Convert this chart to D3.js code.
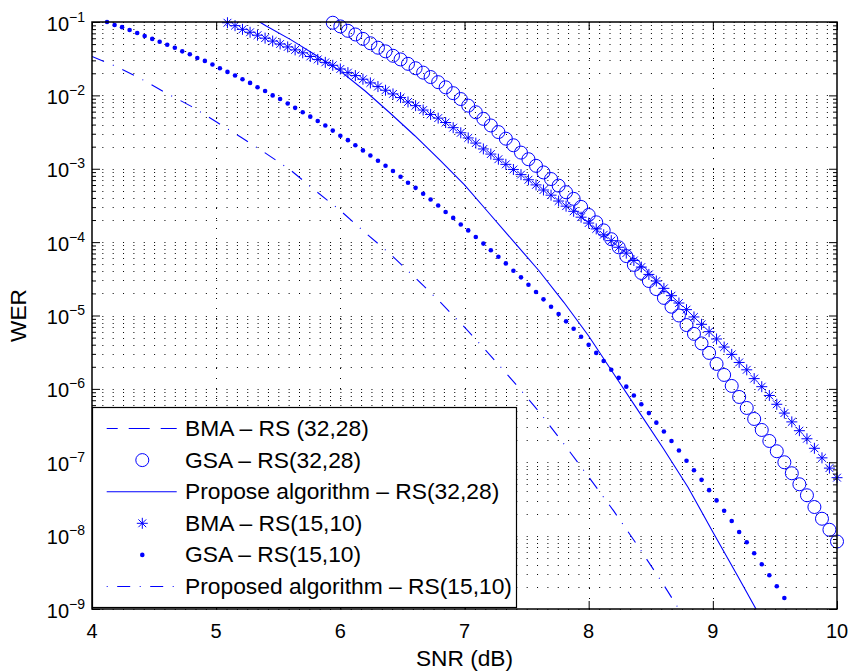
<!DOCTYPE html>
<html>
<head>
<meta charset="utf-8">
<script src="https://cdn.jsdelivr.net/npm/d3@7"></script>
<style>
body{margin:0;background:#fff;}
svg text{font-family:"Liberation Sans",Arial,Helvetica,sans-serif;fill:#000;}
</style>
</head>
<body>
<svg id="chart" width="853" height="672"></svg>
<script>
// SNR grid the simulations were run on (dB)
var snrGrid = [4.000, 4.061, 4.121, 4.182, 4.242, 4.303, 4.364, 4.424, 4.485, 4.545,
	4.606, 4.667, 4.727, 4.788, 4.848, 4.909, 4.970, 5.030, 5.091, 5.152,
	5.212, 5.273, 5.333, 5.394, 5.455, 5.515, 5.576, 5.636, 5.697, 5.758,
	5.818, 5.879, 5.939, 6.000, 6.061, 6.121, 6.182, 6.242, 6.303, 6.364,
	6.424, 6.485, 6.545, 6.606, 6.667, 6.727, 6.788, 6.848, 6.909, 6.970,
	7.030, 7.091, 7.152, 7.212, 7.273, 7.333, 7.394, 7.455, 7.515, 7.576,
	7.636, 7.697, 7.758, 7.818, 7.879, 7.939, 8.000, 8.061, 8.121, 8.182,
	8.242, 8.303, 8.364, 8.424, 8.485, 8.545, 8.606, 8.667, 8.727, 8.788,
	8.848, 8.909, 8.970, 9.030, 9.091, 9.152, 9.212, 9.273, 9.333, 9.394,
	9.455, 9.515, 9.576, 9.636, 9.697, 9.758, 9.818, 9.879, 9.939, 10.000];

// WER values are kept as powers of ten (log10 WER)

// GSA - RS(15,10), dots
var gsa15Snr = snrGrid.slice(2, 93);
var gsa15Exp = [-1.00, -1.04, -1.07, -1.11, -1.15, -1.19, -1.23, -1.27, -1.31, -1.35,
	-1.40, -1.44, -1.49, -1.53, -1.58, -1.63, -1.68, -1.73, -1.78, -1.83,
	-1.89, -1.94, -2.00, -2.05, -2.11, -2.17, -2.23, -2.29, -2.35, -2.41,
	-2.48, -2.55, -2.61, -2.68, -2.75, -2.82, -2.89, -2.96, -3.03, -3.11,
	-3.19, -3.26, -3.34, -3.42, -3.50, -3.59, -3.67, -3.76, -3.84, -3.93,
	-4.02, -4.11, -4.20, -4.29, -4.39, -4.48, -4.58, -4.68, -4.78, -4.88,
	-4.98, -5.08, -5.18, -5.29, -5.40, -5.51, -5.62, -5.74, -5.85, -5.97,
	-6.09, -6.21, -6.33, -6.46, -6.58, -6.71, -6.84, -6.98, -7.11, -7.24,
	-7.38, -7.52, -7.66, -7.80, -7.95, -8.09, -8.24, -8.39, -8.54, -8.69,
	-8.85];

// BMA - RS(15,10), stars
var bma15Snr = snrGrid.slice(18);
var bma15Exp = [-1.01, -1.05, -1.10, -1.14, -1.18, -1.22, -1.26, -1.30, -1.34, -1.38,
	-1.42, -1.47, -1.51, -1.55, -1.59, -1.64, -1.69, -1.73, -1.78, -1.83,
	-1.88, -1.93, -1.98, -2.03, -2.09, -2.14, -2.20, -2.26, -2.31, -2.37,
	-2.44, -2.51, -2.58, -2.65, -2.73, -2.80, -2.87, -2.94, -3.01, -3.08,
	-3.15, -3.22, -3.29, -3.36, -3.44, -3.51, -3.58, -3.66, -3.74, -3.82,
	-3.90, -3.98, -4.07, -4.15, -4.25, -4.34, -4.44, -4.53, -4.63, -4.73,
	-4.83, -4.92, -5.02, -5.12, -5.22, -5.32, -5.43, -5.53, -5.64, -5.74,
	-5.86, -5.97, -6.09, -6.21, -6.33, -6.45, -6.57, -6.68, -6.81, -6.94,
	-7.08, -7.21];

// GSA - RS(32,28), open circles
var gsa32Snr = snrGrid.slice(32);
var gsa32Exp = [-1.01, -1.06, -1.12, -1.17, -1.23, -1.29, -1.35, -1.40, -1.46, -1.51,
	-1.57, -1.63, -1.69, -1.75, -1.82, -1.89, -1.97, -2.05, -2.14, -2.23,
	-2.32, -2.41, -2.50, -2.59, -2.68, -2.78, -2.87, -2.96, -3.05, -3.14,
	-3.23, -3.32, -3.41, -3.52, -3.63, -3.73, -3.84, -3.96, -4.07, -4.19,
	-4.31, -4.42, -4.53, -4.64, -4.76, -4.88, -5.00, -5.13, -5.25, -5.38,
	-5.51, -5.66, -5.81, -5.96, -6.11, -6.26, -6.41, -6.56, -6.71, -6.85,
	-7.00, -7.15, -7.30, -7.45, -7.61, -7.77, -7.92, -8.08];

// Propose algorithm - RS(32,28), solid line
var prop32Snr = [5.3, 5.4, 5.6, 5.8, 6.0, 6.2, 6.4, 6.6, 6.8, 7.0, 7.2,
	7.4, 7.6, 7.8, 8.0, 8.2, 8.4, 8.6, 8.8, 9.0, 9.2, 9.4];
var prop32Exp = [-0.95, -1.05, -1.24, -1.45, -1.67, -1.94, -2.24, -2.55, -2.88, -3.22, -3.61,
	-4.00, -4.39, -4.82, -5.28, -5.79, -6.30, -6.81, -7.34, -7.95, -8.55, -9.16];

// Proposed algorithm - RS(15,10), dash-dot line
var prop15Snr = [4.0, 4.2, 4.4, 4.6, 4.8, 5.0, 5.2, 5.4, 5.6, 5.8, 6.0, 6.2, 6.4,
	6.6, 6.8, 7.0, 7.2, 7.4, 7.6, 7.8, 8.0, 8.2, 8.4, 8.6, 8.8];
var prop15Exp = [-1.47, -1.61, -1.78, -1.97, -2.15, -2.36, -2.57, -2.79, -3.02, -3.30, -3.57, -3.87, -4.16,
	-4.48, -4.81, -5.16, -5.53, -5.91, -6.31, -6.75, -7.20, -7.66, -8.15, -8.66, -9.20];

// BMA - RS(32,28): no curve shows in the figure, only its legend entry
var bma32Snr = [];
var bma32Exp = [];

var xTicks = [4, 5, 6, 7, 8, 9, 10];
var yTickExp = [-1, -2, -3, -4, -5, -6, -7, -8, -9];
var legendLabels = ['BMA \u2013 RS (32,28)', 'GSA \u2013 RS(32,28)', 'Propose algorithm \u2013 RS(32,28)',
	'BMA \u2013 RS(15,10)', 'GSA \u2013 RS(15,10)', 'Proposed algorithm \u2013 RS(15,10)'];

var plot = {left: 92, right: 837, top: 22, bottom: 609};
var blue = '#0000ff';
var dashDot = '13 9.5 1 9.5';
var dashed = '21 11';

var x = d3.scaleLinear().domain([4, 10]).range([plot.left, plot.right]);
var y = d3.scaleLog().domain([1e-9, 1e-1]).range([plot.bottom, plot.top]);

var svg = d3.select('#chart');

drawGrid();
drawSeries();
drawAxes();
drawLegend();

//pairs a series up as [snr, wer]
function pts(snr, exps){
	return snr.map(function(s, i){
		return [s, Math.pow(10, exps[i])];
	});
}

//dotted grid, majors and log minors
function drawGrid(){
	var g = svg.append('g').attr('class', 'grid');
	var rows = [];
	yTickExp.forEach(function(e){
		rows.push(Math.pow(10, e));
		if(e > -9){
			for(var m = 2; m <= 9; m++) rows.push(m * Math.pow(10, e - 1));
		}
	});
	g.selectAll('line.h').data(rows).enter().append('line')
		.attr('class', 'h')
		.attr('x1', plot.left).attr('x2', plot.right)
		.attr('y1', function(d){ return Math.round(y(d)) + 0.5; })
		.attr('y2', function(d){ return Math.round(y(d)) + 0.5; })
		.attr('stroke', '#000').attr('stroke-width', 1)
		.attr('stroke-dasharray', '1 9.35');
	g.selectAll('line.v').data(xTicks.slice(1, -1)).enter().append('line')
		.attr('class', 'v')
		.attr('x1', function(d){ return Math.round(x(d)) + 0.5; })
		.attr('x2', function(d){ return Math.round(x(d)) + 0.5; })
		.attr('y1', plot.bottom).attr('y2', plot.top)
		.attr('stroke', '#000').attr('stroke-width', 1)
		.attr('stroke-dasharray', '1 9');
}

function drawSeries(){
	svg.append('clipPath').attr('id', 'clip').append('rect')
		.attr('x', plot.left).attr('y', plot.top)
		.attr('width', plot.right - plot.left).attr('height', plot.bottom - plot.top);

	var line = d3.line()
		.x(function(d){ return x(d[0]); })
		.y(function(d){ return y(d[1]); });
	var lines = svg.append('g').attr('clip-path', 'url(#clip)')
		.attr('fill', 'none').attr('stroke', blue).attr('stroke-width', 1.1);

	lines.append('path').datum(pts(bma32Snr, bma32Exp))
		.attr('d', function(d){ return d.length ? line(d) : null; })
		.attr('stroke-dasharray', dashed);
	lines.append('path').datum(pts(prop32Snr, prop32Exp)).attr('d', line);
	lines.append('path').datum(pts(prop15Snr, prop15Exp)).attr('d', line)
		.attr('stroke-dasharray', dashDot);

	//markers are not clipped, like matlab
	var circles = svg.append('g').attr('fill', 'none').attr('stroke', blue).attr('stroke-width', 1);
	circles.selectAll('circle').data(pts(gsa32Snr, gsa32Exp)).enter().append('circle')
		.attr('cx', function(d){ return x(d[0]); })
		.attr('cy', function(d){ return y(d[1]); })
		.attr('r', 6.5);

	var stars = svg.append('g').attr('fill', 'none').attr('stroke', blue).attr('stroke-width', 1);
	stars.selectAll('path').data(pts(bma15Snr, bma15Exp)).enter().append('path')
		.attr('d', starPath)
		.attr('transform', function(d){ return 'translate(' + x(d[0]) + ',' + y(d[1]) + ')'; });

	svg.append('g').attr('fill', blue).selectAll('circle')
		.data(pts(gsa15Snr, gsa15Exp)).enter().append('circle')
		.attr('cx', function(d){ return x(d[0]); })
		.attr('cy', function(d){ return y(d[1]); })
		.attr('r', 2.3);
}

function starPath(){
	var a = 5.5, b = 3.9;
	return 'M' + (-a) + ',0H' + a + 'M0,' + (-a) + 'V' + a +
		'M' + (-b) + ',' + (-b) + 'L' + b + ',' + b +
		'M' + (-b) + ',' + b + 'L' + b + ',' + (-b);
}

//box with inward ticks on all four sides + labels
function drawAxes(){
	var majors = yTickExp.map(function(e){ return Math.pow(10, e); });
	var minors = [];
	yTickExp.forEach(function(e){
		if(e > -9) for(var m = 2; m <= 9; m++) minors.push(m * Math.pow(10, e - 1));
	});

	function put(axis, tx, ty){
		var g = svg.append('g').attr('transform', 'translate(' + tx + ',' + ty + ')').call(axis);
		g.select('.domain').remove();
		g.selectAll('line').attr('stroke', '#000').attr('stroke-width', 1);
		g.selectAll('text').remove();
	}
	put(d3.axisBottom(x).tickValues(xTicks).tickSize(-8).tickSizeOuter(0).tickFormat(''), 0, plot.bottom);
	put(d3.axisTop(x).tickValues(xTicks).tickSize(-8).tickSizeOuter(0).tickFormat(''), 0, plot.top);
	put(d3.axisLeft(y).tickValues(majors).tickSize(-8).tickSizeOuter(0).tickFormat(''), plot.left, 0);
	put(d3.axisRight(y).tickValues(majors).tickSize(-8).tickSizeOuter(0).tickFormat(''), plot.right, 0);
	put(d3.axisLeft(y).tickValues(minors).tickSize(-4).tickSizeOuter(0).tickFormat(''), plot.left, 0);
	put(d3.axisRight(y).tickValues(minors).tickSize(-4).tickSizeOuter(0).tickFormat(''), plot.right, 0);

	svg.append('rect')
		.attr('x', plot.left).attr('y', plot.top)
		.attr('width', plot.right - plot.left).attr('height', plot.bottom - plot.top)
		.attr('fill', 'none').attr('stroke', '#000').attr('stroke-width', 1.5);

	//x tick labels
	svg.append('g').selectAll('text').data(xTicks).enter().append('text')
		.attr('x', function(d){ return x(d); })
		.attr('y', 638)
		.attr('text-anchor', 'middle')
		.attr('font-size', 20)
		.text(function(d){ return d; });

	//y tick labels 10^e
	var yl = svg.append('g').selectAll('text').data(yTickExp).enter().append('text')
		.attr('x', 85)
		.attr('y', function(d){ return y(Math.pow(10, d)) + 8.5; })
		.attr('text-anchor', 'end')
		.attr('font-size', 20);
	yl.append('tspan').text('10');
	yl.append('tspan').attr('dy', -9).attr('font-size', 14)
		.text(function(d){ return '\u2212' + (-d); });

	svg.append('text')
		.attr('x', (plot.left + plot.right) / 2).attr('y', 666)
		.attr('text-anchor', 'middle').attr('font-size', 22.7)
		.text('SNR (dB)');
	svg.append('text')
		.attr('transform', 'translate(26,' + (plot.top + plot.bottom) / 2 + ') rotate(-90)')
		.attr('text-anchor', 'middle').attr('font-size', 22.7)
		.text('WER');
}

function drawLegend(){
	var box = {x: 92.5, y: 407.5, w: 424, h: 200};
	var g = svg.append('g').attr('class', 'legend');
	g.append('rect')
		.attr('x', box.x).attr('y', box.y).attr('width', box.w).attr('height', box.h)
		.attr('fill', '#fff').attr('stroke', '#000').attr('stroke-width', 1.2);

	var rowY = function(i){ return 428.5 + i * 31.6; };
	var x0 = 106.7, x1 = 176.7, mx = 142.3;

	legendLabels.forEach(function(label, i){
		var cy = rowY(i);
		if(i === 0 || i === 2 || i === 5){
			var ln = g.append('line')
				.attr('x1', x0).attr('x2', x1).attr('y1', cy).attr('y2', cy)
				.attr('stroke', blue).attr('stroke-width', 1.1);
			if(i === 0) ln.attr('stroke-dasharray', dashed).attr('stroke-dashoffset', 10);
			if(i === 5) ln.attr('stroke-dasharray', dashDot).attr('stroke-dashoffset', 22.5);
		}else if(i === 1){
			g.append('circle').attr('cx', mx).attr('cy', cy).attr('r', 6.5)
				.attr('fill', 'none').attr('stroke', blue);
		}else if(i === 3){
			g.append('path').attr('d', starPath)
				.attr('transform', 'translate(' + mx + ',' + cy + ')')
				.attr('fill', 'none').attr('stroke', blue);
		}else{
			g.append('circle').attr('cx', mx).attr('cy', cy).attr('r', 2.3).attr('fill', blue);
		}
		g.append('text')
			.attr('x', 185).attr('y', cy + 7.5)
			.attr('font-size', 22.8)
			.text(label);
	});
}
</script>
</body>
</html>
